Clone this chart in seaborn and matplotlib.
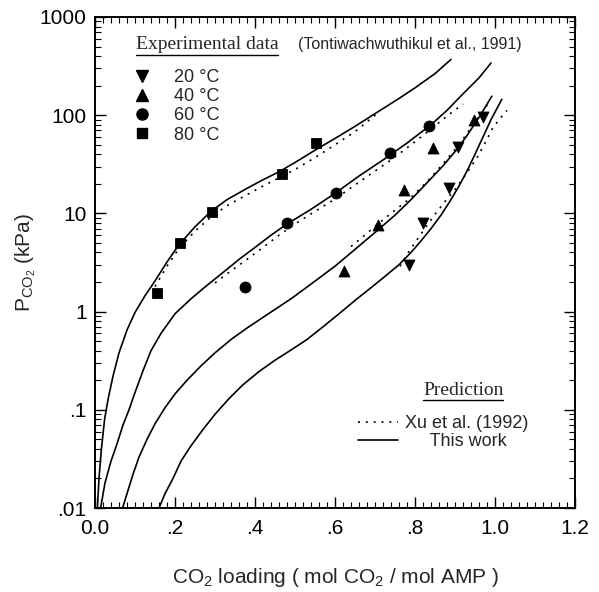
import matplotlib
matplotlib.use("Agg")
import matplotlib.pyplot as plt
import seaborn as sns
from matplotlib.lines import Line2D
from matplotlib.ticker import FixedLocator, MultipleLocator, LogLocator, NullFormatter, FixedFormatter

# ---------------- data ----------------
# experimental points (Tontiwachwuthikul et al., 1991)
x20 = [0.785, 0.821, 0.885, 0.908, 0.969]
y20 = [3.0, 8.0, 18.0, 47.0, 95.0]
x40 = [0.623, 0.708, 0.772, 0.846, 0.948]
y40 = [2.6, 7.7, 17.5, 46.0, 90.0]
x60 = [0.375, 0.479, 0.603, 0.738, 0.836]
y60 = [1.8, 8.0, 16.0, 41.0, 78.0]
x80 = [0.154, 0.212, 0.292, 0.467, 0.553]
y80 = [1.55, 5.0, 10.3, 25.2, 52.0]

# "This work" solid curves
c80_x = [0.006, 0.010, 0.016, 0.024, 0.033, 0.045, 0.06, 0.08, 0.10, 0.125, 0.15, 0.18, 0.21,
         0.25, 0.29, 0.33, 0.38, 0.42, 0.46, 0.50, 0.55, 0.60, 0.65, 0.71, 0.76, 0.80, 0.85, 0.89]
c80_y = [0.01, 0.02, 0.04, 0.08, 0.13, 0.22, 0.38, 0.65, 0.98, 1.45, 2.05, 3.2, 4.8,
         7.3, 10.5, 13.8, 18.0, 22.0, 26.5, 33.0, 44.0, 58.0, 77.0, 110.0, 148.0, 190.0, 265.0, 370.0]
c60_x = [0.014, 0.025, 0.04, 0.055, 0.07, 0.085, 0.10, 0.12, 0.14, 0.165, 0.20, 0.24, 0.28, 0.32,
         0.36, 0.40, 0.44, 0.48, 0.54, 0.60, 0.66, 0.72, 0.78, 0.84, 0.88, 0.92, 0.96, 0.99]
c60_y = [0.01, 0.018, 0.03, 0.045, 0.07, 0.1, 0.15, 0.25, 0.4, 0.6, 0.95, 1.35, 1.85, 2.5,
         3.4, 4.5, 6.0, 7.8, 11.0, 16.0, 24.0, 35.0, 52.0, 80.0, 112.0, 165.0, 240.0, 340.0]
c40_x = [0.069, 0.08, 0.095, 0.11, 0.13, 0.15, 0.175, 0.20, 0.23, 0.265, 0.30, 0.34, 0.38, 0.43,
         0.49, 0.554, 0.60, 0.65, 0.704, 0.75, 0.79, 0.83, 0.87, 0.905, 0.93, 0.96, 0.992]
c40_y = [0.01, 0.014, 0.022, 0.033, 0.05, 0.072, 0.105, 0.145, 0.2, 0.28, 0.38, 0.52, 0.68, 0.93,
         1.35, 2.1, 2.9, 4.3, 6.6, 9.6, 13.8, 20.5, 30.5, 45.0, 62.0, 95.0, 156.0]
c20_x = [0.16, 0.175, 0.195, 0.215, 0.24, 0.27, 0.30, 0.335, 0.37, 0.41, 0.45, 0.4875, 0.53, 0.57,
         0.61, 0.65, 0.69, 0.72, 0.76, 0.79, 0.8125, 0.84, 0.865, 0.8875, 0.91, 0.93, 0.95, 0.97,
         0.99, 1.017]
c20_y = [0.01, 0.014, 0.02, 0.03, 0.043, 0.063, 0.09, 0.13, 0.18, 0.245, 0.32, 0.4, 0.52, 0.7,
         0.95, 1.3, 1.75, 2.2, 3.0, 4.0, 5.1, 7.0, 9.6, 13.3, 19.0, 27.0, 40.0, 60.0,
         90.0, 145.0]

# Xu et al. (1992) dotted curves
d80_x = [0.15, 0.18, 0.21, 0.25, 0.29, 0.33, 0.38, 0.42, 0.46, 0.50, 0.55, 0.60, 0.65, 0.707]
d80_y = [1.8, 2.9, 4.4, 6.6, 9.2, 12.0, 15.5, 19.0, 23.0, 28.0, 37.0, 50.0, 68.0, 105.0]
d60_x = [0.30, 0.34, 0.38, 0.42, 0.46, 0.50, 0.55, 0.60, 0.65, 0.70, 0.74, 0.79, 0.84, 0.88, 0.92]
d60_y = [1.96, 2.6, 3.4, 4.5, 6.0, 7.8, 10.5, 14.0, 19.5, 27.0, 35.0, 50.0, 72.0, 98.0, 130.0]
d40_x = [0.64, 0.67, 0.704, 0.74, 0.79, 0.83, 0.87, 0.91, 0.95, 0.985]
d40_y = [4.6, 5.8, 7.6, 10.0, 14.5, 21.0, 32.0, 50.0, 85.0, 135.0]
d20_x = [0.7625, 0.79, 0.82, 0.85, 0.88, 0.90, 0.93, 0.955, 0.975, 0.995, 1.015, 1.03]
d20_y = [2.9, 4.4, 6.6, 9.8, 14.0, 17.5, 26.0, 37.0, 52.0, 75.0, 95.0, 112.0]

xticks = [0.0, 0.2, 0.4, 0.6, 0.8, 1.0, 1.2]
xticklabels = ["0.0", ".2", ".4", ".6", ".8", "1.0", "1.2"]
yticks = [0.01, 0.1, 1, 10, 100, 1000]
yticklabels = [".01", ".1", "1", "10", "100", "1000"]
temp_labels = ["20 \u00b0C", "40 \u00b0C", "60 \u00b0C", "80 \u00b0C"]

# ---------------- style ----------------
sns.set_style("ticks")
plt.rcParams["font.family"] = ["Liberation Sans", "DejaVu Sans"]
plt.rcParams["mathtext.fontset"] = "custom"
plt.rcParams["mathtext.rm"] = "Liberation Sans"
plt.rcParams["mathtext.it"] = "Liberation Sans:italic"
plt.rcParams["mathtext.bf"] = "Liberation Sans:bold"

fig = plt.figure(figsize=(5.99, 5.92), dpi=100)
ax = fig.add_axes([95/599, 1-508/592, 480/599, 491/592])
ax.set_yscale("log")

lw = 1.2
dotted = (0, (1.2, 3.5))
for cx, cy in [(c80_x, c80_y), (c60_x, c60_y), (c40_x, c40_y), (c20_x, c20_y)]:
    sns.lineplot(x=cx, y=cy, ax=ax, color="k", lw=lw, sort=False, estimator=None)
for dx, dy in [(d80_x, d80_y), (d60_x, d60_y), (d40_x, d40_y), (d20_x, d20_y)]:
    sns.lineplot(x=dx, y=dy, ax=ax, color="k", lw=lw, sort=False, estimator=None,
                 linestyle=dotted)

ms = 62
sns.scatterplot(x=x20, y=y20, ax=ax, marker="v", s=ms, color="k", edgecolor="k", zorder=5)
sns.scatterplot(x=x40, y=y40, ax=ax, marker="^", s=ms, color="k", edgecolor="k", zorder=5)
sns.scatterplot(x=x60, y=y60, ax=ax, marker="o", s=ms, color="k", edgecolor="k", zorder=5)
sns.scatterplot(x=x80, y=y80, ax=ax, marker="s", s=52, color="k", edgecolor="k", zorder=5)

ax.set_xlim(0.0, 1.2)
ax.set_ylim(0.01, 1000)
ax.xaxis.set_major_locator(FixedLocator(xticks))
ax.xaxis.set_major_formatter(FixedFormatter(xticklabels))
ax.xaxis.set_minor_locator(MultipleLocator(0.02))
ax.yaxis.set_major_locator(FixedLocator(yticks))
ax.yaxis.set_major_formatter(FixedFormatter(yticklabels))
ax.yaxis.set_minor_locator(LogLocator(base=10, subs=range(2, 10), numticks=20))
ax.yaxis.set_minor_formatter(NullFormatter())
ax.tick_params(which="both", direction="in", top=True, right=True, colors="k", labelsize=15)
ax.tick_params(which="major", length=8, width=1.0)
ax.tick_params(which="minor", length=4, width=0.8)
ax.tick_params(axis="x", pad=8)
ax.tick_params(axis="y", pad=6)
for sp in ax.spines.values():
    sp.set_linewidth(1.4)
    sp.set_color("k")

ax.set_xlabel("CO$_2$ loading ( mol CO$_2$ / mol AMP )", fontsize=15, labelpad=20)
ax.set_ylabel("P$_{\\mathrm{CO}_2}$ (kPa)", fontsize=15, labelpad=1)

# legend: experimental data
h_exp = [Line2D([], [], ls="none", marker=m, color="k", markersize=ms_, markeredgecolor="k")
         for m, ms_ in zip(["v", "^", "o", "s"], [8, 8, 8, 7.2])]
leg1 = ax.legend(h_exp, temp_labels, loc="upper left", bbox_to_anchor=(0.079, 0.894),
                 frameon=False, fontsize=13, handlelength=1.0, handletextpad=1.28,
                 labelspacing=0.12, borderpad=0, borderaxespad=0)
ax.add_artist(leg1)

# legend: prediction
h_pred = [Line2D([], [], color="k", lw=lw, linestyle=dotted),
          Line2D([], [], color="k", lw=lw)]
leg2 = ax.legend(h_pred, ["Xu et al. (1992)", "     This work"], loc="upper left",
                 bbox_to_anchor=(0.548, 0.189), frameon=False, fontsize=13,
                 handlelength=2.2, handletextpad=0.4, labelspacing=0.05,
                 borderpad=0, borderaxespad=0)

t1 = ax.text(0.085, 0.943, "Experimental data", transform=ax.transAxes, fontsize=14,
             family=["Liberation Serif", "DejaVu Serif"], ha="left", va="center")
ax.text(0.423, 0.943, "(Tontiwachwuthikul et al., 1991)", transform=ax.transAxes,
        fontsize=11.5, ha="left", va="center")
t2 = ax.text(0.767, 0.240, "Prediction", transform=ax.transAxes, fontsize=14,
             family=["Liberation Serif", "DejaVu Serif"], ha="center", va="center")

# underline titles
fig.canvas.draw()
inv = fig.transFigure.inverted()
for t in (t1, t2):
    bb = t.get_window_extent()
    (x0, y0), (x1, y1) = inv.transform([[bb.x0, bb.y0], [bb.x1, bb.y0]])
    fig.add_artist(Line2D([x0, x1], [y0 - 0.002, y0 - 0.002], transform=fig.transFigure,
                          color="k", lw=1.0))

fig.savefig("out.png", dpi=100)
